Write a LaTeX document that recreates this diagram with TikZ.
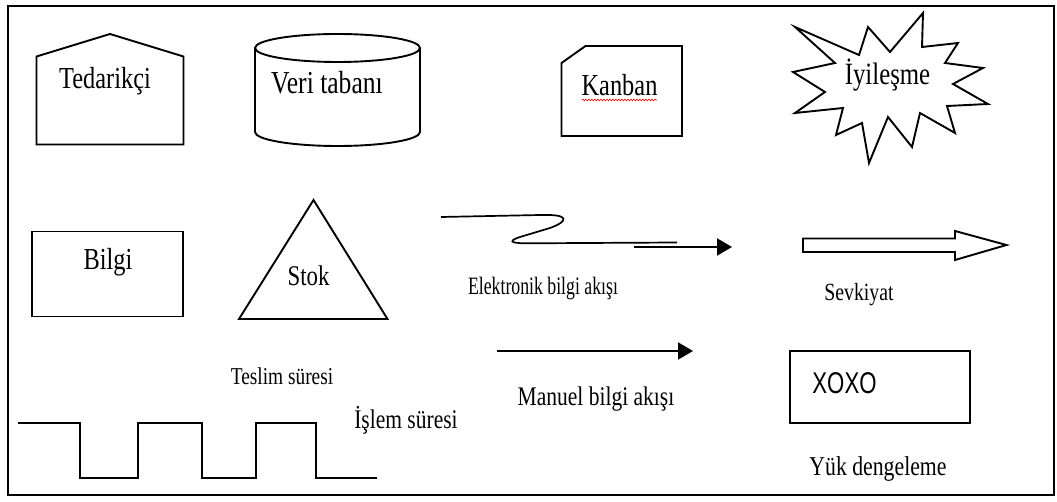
\documentclass[tikz,border=0pt]{standalone}
\usepackage{fontspec}
\usetikzlibrary{arrows.meta,decorations.pathmorphing}
\newfontfamily\tnr{Liberation Serif}[FakeStretch=0.8]
\newfontfamily\tnrc{Liberation Serif}[FakeStretch=0.71]
\newfontfamily\arl{Liberation Sans}[FakeStretch=0.74]
\newcommand{\fsz}[1]{\fontsize{#1}{#1}\selectfont}
\tikzset{
  frame/.style={line width=2.8pt},
  shp/.style={line width=1.9pt, line join=miter},
  lbl/.style={anchor=base, inner sep=0pt, font=\tnr},
  flow/.style={line width=2pt, -{Triangle[length=15pt,width=17pt]}},
}
\begin{document}
\begin{tikzpicture}[x=1pt,y=-1pt]
\useasboundingbox (0,0) rectangle (1057,502);

% outer frame
\draw[frame] (8,6) rectangle (1054,495);

% supplier
\draw[shp] (36.5,56.5) -- (110,34) -- (183.5,56.5) -- (183.5,144.5) -- (36.5,144.5) -- cycle;
\node[lbl, font=\tnr\fsz{30.5}] (ted) at (105,89) {Tedarikçi};

% database cylinder
\draw[shp] (337.5,48) ellipse [x radius=82.5, y radius=14];
\draw[shp] (255,48) -- (255,132) arc[start angle=180, end angle=360, x radius=82.5, y radius=-14] -- (420,48);
\node[lbl, font=\tnr\fsz{32}] (veri) at (327,94) {Veri tabanı};

% kanban card
\draw[shp] (561.5,63) -- (585.5,46) -- (682,46) -- (682,136) -- (561.5,136) -- cycle;
\node[lbl, font=\tnr\fsz{30.5}] (kanban) at (619.5,96) {Kanban};
\draw[red, line width=0.6pt, decorate, decoration={snake, amplitude=0.9pt, segment length=3pt}] (582,100) -- (657,100);

% improvement burst
\draw[shp] (795,27) -- (859,55) -- (868,27) -- (890,52) -- (923,13) -- (922,47)
  -- (958,43) -- (945,63) -- (983,68) -- (953,84) -- (988,104) -- (947,106)
  -- (955,133) -- (920,113) -- (912,147) -- (888,117) -- (869,163) -- (862,123)
  -- (836,135) -- (843,108) -- (795,113) -- (825,92) -- (793,72) -- (835,63) -- cycle;
\node[lbl, font=\tnr\fsz{31}] (iyi) at (887.5,85) {İyileşme};

% information box
\draw[shp] (32,231.5) rectangle (183,316.5);
\node[lbl, font=\tnr\fsz{30.5}] (bilgi) at (108,269.5) {Bilgi};

% inventory triangle
\draw[shp] (313.5,200) -- (387.5,319) -- (239,319) -- cycle;
\node[lbl, font=\tnr\fsz{28.5}] (stok) at (308.5,285.5) {Stok};

% electronic information flow
\coordinate (e1) at (441,217);
\coordinate (e2) at (677,242.5);
\coordinate (e3) at (634,247);
\coordinate (e4) at (732,247);
\draw[line width=1.7pt] (e1) -- (540,215) .. controls (570,214) and (569,221) .. (550,228)
  -- (520,237) .. controls (505,242) and (514,243.5) .. (530,243.3) -- (e2);
\draw[flow] (e3) -- (e4);
\node[lbl, font=\tnrc\fsz{25}] (elek) at (543,294.5) {Elektronik bilgi akışı};

% shipment arrow
\draw[shp] (803,238.5) -- (955,238.5) -- (955,231) -- (1006.5,245) -- (955,260)
  -- (955,252) -- (803,252) -- cycle;
\node[lbl, font=\tnr\fsz{24.7}] (sevk) at (859,300.5) {Sevkiyat};

% manual information flow
\coordinate (m1) at (497,351);
\coordinate (m2) at (693,351);
\draw[flow] (m1) -- (m2);
\node[lbl, font=\tnr\fsz{26.9}] (manuel) at (596,405.5) {Manuel bilgi akışı};

% load levelling
\draw[shp] (790,351) rectangle (970,423);
\node[lbl, font=\arl\fsz{30}] (xoxo) at (844.5,393.5) {XOXO};
\node[lbl, font=\tnr\fsz{27.2}] (yuk) at (878,475.5) {Yük dengeleme};

% lead time / process time line
\node[lbl, font=\tnr\fsz{24.2}] (teslim) at (282,384.5) {Teslim süresi};
\node[lbl, font=\tnr\fsz{26.9}] (islem) at (406,428.5) {İşlem süresi};
\draw[shp] (18,423) -- (80,423) -- (80,478) -- (138,478) -- (138,423) -- (202,423)
  -- (202,478) -- (256,478) -- (256,423) -- (316,423) -- (316,478) -- (377,478);
\end{tikzpicture}
\end{document}
